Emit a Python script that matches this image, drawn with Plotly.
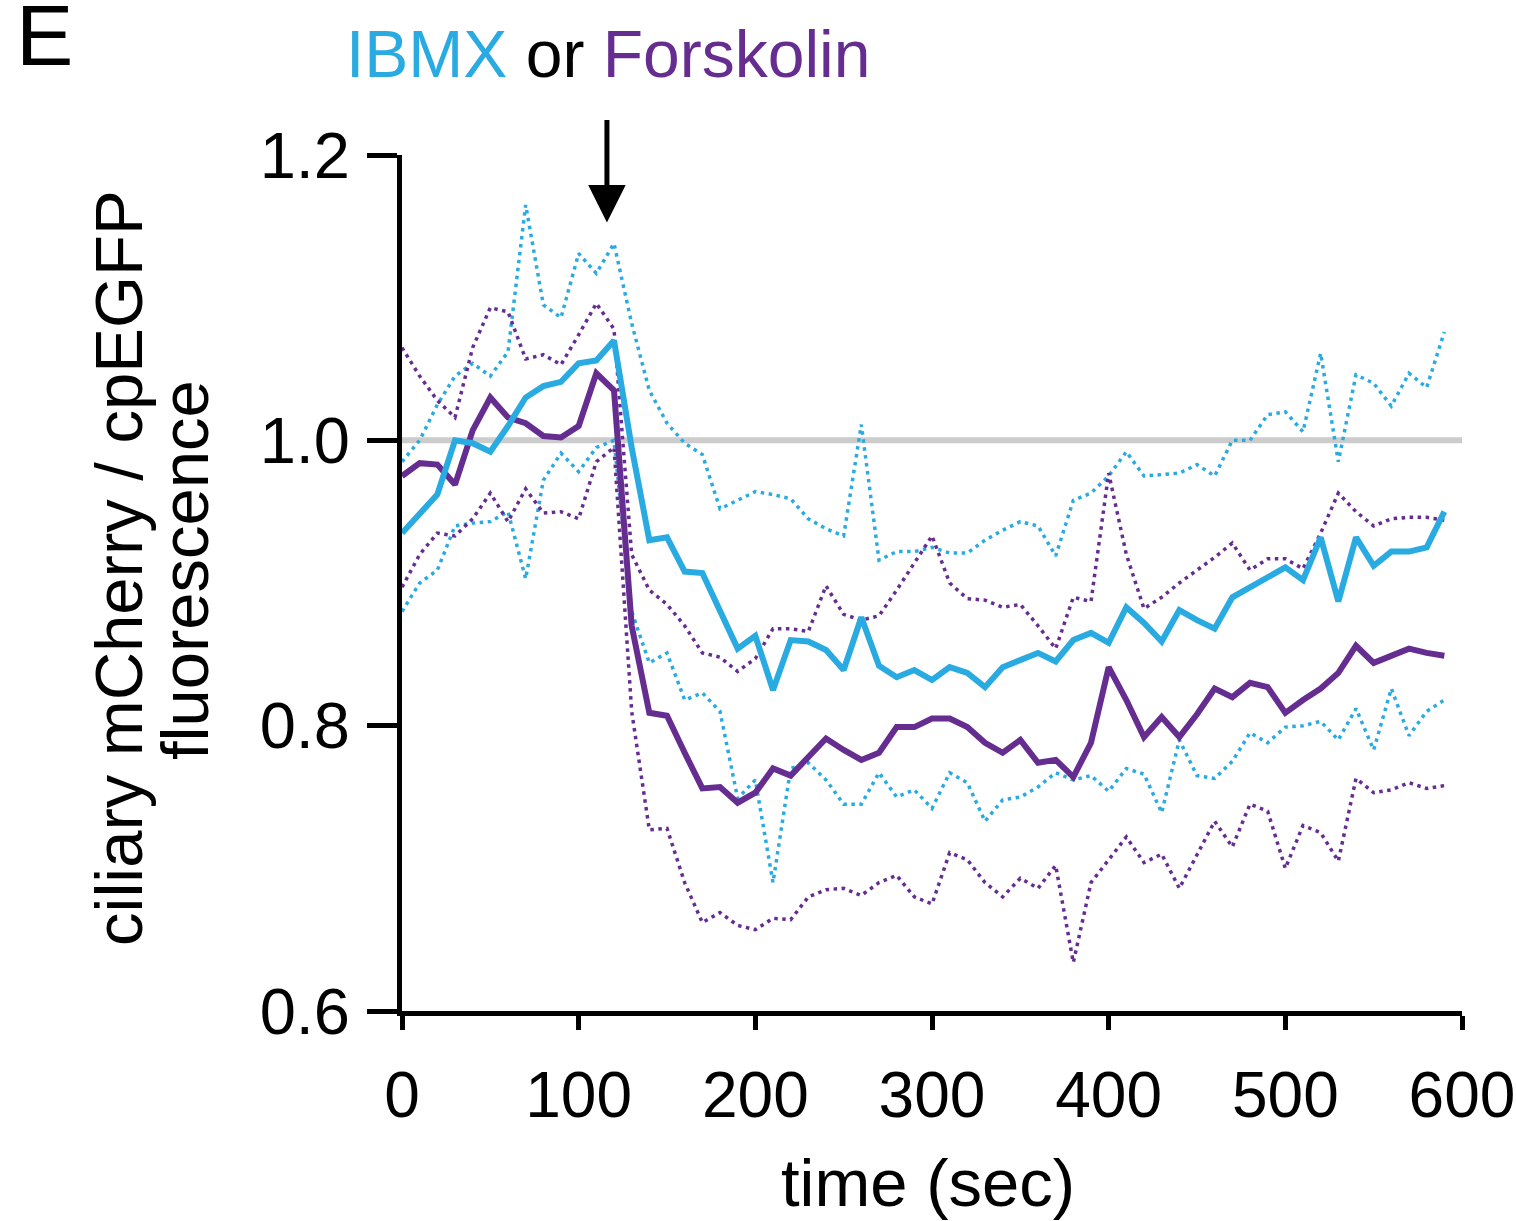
import plotly.graph_objects as go

time_sec = [0, 10, 20, 30, 40, 50, 60, 70, 80, 90,
            100, 110, 120, 130, 140, 150, 160, 170, 180, 190,
            200, 210, 220, 230, 240, 250, 260, 270, 280, 290,
            300, 310, 320, 330, 340, 350, 360, 370, 380, 390,
            400, 410, 420, 430, 440, 450, 460, 470, 480, 490,
            500, 510, 520, 530, 540, 550, 560, 570, 580, 590]

ibmx_mean = [0.935, 0.948, 0.962, 1.000, 0.998, 0.992, 1.010, 1.030, 1.038, 1.041,
             1.054, 1.056, 1.070, 0.995, 0.930, 0.932, 0.908, 0.907, 0.881, 0.854,
             0.863, 0.825, 0.860, 0.859, 0.853, 0.839, 0.876, 0.842, 0.834, 0.839,
             0.832, 0.841, 0.837, 0.827, 0.841, 0.846, 0.851, 0.845, 0.860, 0.865,
             0.858, 0.883, 0.872, 0.859, 0.881, 0.874, 0.868, 0.890, 0.897, 0.904,
             0.911, 0.902, 0.932, 0.887, 0.932, 0.912, 0.922, 0.922, 0.925, 0.950]

ibmx_upper = [0.985, 1.000, 1.025, 1.045, 1.054, 1.045, 1.062, 1.165, 1.095, 1.086,
              1.131, 1.117, 1.138, 1.082, 1.035, 1.012, 0.998, 0.990, 0.952, 0.958,
              0.964, 0.962, 0.959, 0.945, 0.938, 0.933, 1.011, 0.916, 0.922, 0.922,
              0.925, 0.921, 0.921, 0.930, 0.937, 0.943, 0.940, 0.919, 0.958, 0.963,
              0.975, 0.992, 0.975, 0.976, 0.977, 0.983, 0.975, 1.000, 1.000, 1.018,
              1.020, 1.006, 1.061, 0.985, 1.046, 1.040, 1.024, 1.047, 1.037, 1.076]

ibmx_lower = [0.880, 0.900, 0.909, 0.940, 0.942, 0.943, 0.950, 0.903, 0.972, 0.991,
              0.978, 0.995, 1.000, 0.880, 0.844, 0.851, 0.818, 0.823, 0.810, 0.749,
              0.762, 0.690, 0.770, 0.774, 0.762, 0.745, 0.745, 0.767, 0.750, 0.755,
              0.742, 0.767, 0.760, 0.733, 0.748, 0.750, 0.757, 0.767, 0.762, 0.765,
              0.754, 0.770, 0.766, 0.739, 0.790, 0.765, 0.763, 0.775, 0.795, 0.788,
              0.799, 0.800, 0.803, 0.790, 0.812, 0.783, 0.826, 0.793, 0.810, 0.818]

forsk_mean = [0.975, 0.984, 0.983, 0.969, 1.007, 1.030, 1.016, 1.012, 1.003, 1.002,
              1.010, 1.047, 1.035, 0.870, 0.809, 0.807, 0.781, 0.756, 0.757, 0.746,
              0.753, 0.770, 0.765, 0.778, 0.791, 0.783, 0.776, 0.781, 0.799, 0.799,
              0.805, 0.805, 0.799, 0.788, 0.781, 0.790, 0.774, 0.776, 0.764, 0.788,
              0.841, 0.818, 0.792, 0.806, 0.792, 0.808, 0.826, 0.820, 0.830, 0.827,
              0.809, 0.818, 0.826, 0.837, 0.856, 0.844, 0.849, 0.854, 0.851, 0.849]

forsk_upper = [1.065, 1.045, 1.028, 1.016, 1.065, 1.093, 1.090, 1.057, 1.060, 1.053,
               1.074, 1.096, 1.078, 0.920, 0.895, 0.885, 0.870, 0.851, 0.848, 0.838,
               0.847, 0.868, 0.868, 0.866, 0.898, 0.878, 0.874, 0.877, 0.895, 0.914,
               0.933, 0.900, 0.889, 0.888, 0.883, 0.885, 0.870, 0.854, 0.890, 0.887,
               0.977, 0.920, 0.882, 0.890, 0.900, 0.909, 0.918, 0.928, 0.909, 0.917,
               0.917, 0.910, 0.935, 0.963, 0.950, 0.940, 0.945, 0.946, 0.946, 0.944]

forsk_lower = [0.897, 0.920, 0.935, 0.933, 0.945, 0.963, 0.943, 0.966, 0.949, 0.950,
               0.945, 0.985, 0.995, 0.810, 0.727, 0.728, 0.690, 0.662, 0.669, 0.660,
               0.657, 0.665, 0.664, 0.680, 0.685, 0.686, 0.681, 0.690, 0.695, 0.680,
               0.675, 0.711, 0.706, 0.690, 0.680, 0.693, 0.686, 0.702, 0.634, 0.690,
               0.706, 0.722, 0.704, 0.710, 0.686, 0.710, 0.733, 0.715, 0.745, 0.740,
               0.700, 0.730, 0.725, 0.705, 0.763, 0.753, 0.755, 0.760, 0.756, 0.758]

x_ticks = [0, 100, 200, 300, 400, 500, 600]
y_ticks = [0.6, 0.8, 1.0, 1.2]
y_tick_text = ["0.6", "0.8", "1.0", "1.2"]

BLUE = "#29ABE2"
PURPLE = "#662D91"
FONT = "Liberation Sans, Arial, sans-serif"

fig = go.Figure()

for series, color in [(ibmx_upper, BLUE), (ibmx_lower, BLUE),
                      (forsk_upper, PURPLE), (forsk_lower, PURPLE)]:
    fig.add_trace(go.Scatter(x=time_sec, y=series, mode="lines",
                             line=dict(color=color, width=3.5, dash="3.5px,4.5px"),
                             hoverinfo="skip", showlegend=False))

fig.add_trace(go.Scatter(x=time_sec, y=forsk_mean, mode="lines",
                         line=dict(color=PURPLE, width=6), showlegend=False))
fig.add_trace(go.Scatter(x=time_sec, y=ibmx_mean, mode="lines",
                         line=dict(color=BLUE, width=6), showlegend=False))

# baseline reference at 1.0
fig.add_shape(type="line", xref="x", yref="y", x0=0, x1=600, y0=1.0, y1=1.0,
              line=dict(color="#cccccc", width=6), layer="below")

L, R, T, B = 402, 54, 155, 210
W, H = 1516, 1221
PW, PH = W - L - R, H - T - B


def px(xp):
    return (xp - L) / PW


def py(yp):
    return (H - B - yp) / PH


fig.update_layout(
    width=W, height=H,
    margin=dict(l=L, r=R, t=T, b=B, pad=0, autoexpand=False),
    plot_bgcolor="white", paper_bgcolor="white",
    font=dict(family=FONT, color="black", size=65),
    showlegend=False,
    xaxis=dict(range=[0, 600], tickvals=x_ticks, ticks="outside", ticklen=14,
               tickwidth=5, tickcolor="black", showline=True, linewidth=5,
               linecolor="black", showgrid=False, zeroline=False,
               automargin=False, ticklabeloverflow="allow",
               tickfont=dict(size=64, family=FONT), ticklabelstandoff=10),
    yaxis=dict(range=[0.6, 1.2], tickvals=y_ticks, ticktext=y_tick_text,
               ticks="outside", ticklen=30, tickwidth=5, tickcolor="black",
               showline=True, linewidth=5, linecolor="black", showgrid=False,
               zeroline=False, automargin=False, ticklabeloverflow="allow",
               tickfont=dict(size=65, family=FONT),
               ticklabelstandoff=4),
)

annotations = [
    dict(text="ciliary mCherry / cpEGFP", x=px(118), y=py(568), textangle=-90,
         showarrow=False, xanchor="center", yanchor="middle",
         font=dict(size=67, family=FONT)),
    dict(text="fluorescence", x=px(184), y=py(570), textangle=-90,
         showarrow=False, xanchor="center", yanchor="middle",
         font=dict(size=67, family=FONT)),
    dict(text="time (sec)", x=px(928), y=py(1182), showarrow=False,
         xanchor="center", yanchor="middle", font=dict(size=67, family=FONT)),
    dict(text="E", x=px(14), y=py(35), showarrow=False, xanchor="left",
         yanchor="middle", font=dict(size=86, family=FONT)),
    dict(text=f"<span style='color:{BLUE}'>IBMX</span> or "
              f"<span style='color:{PURPLE}'>Forskolin</span>",
         x=px(608), y=py(54), showarrow=False, xanchor="center",
         yanchor="middle", font=dict(size=66, family=FONT)),
    dict(x=116, y=1.1527, xref="x", yref="y", text="", showarrow=True,
         ax=0, ay=-104, arrowhead=2, arrowwidth=5, arrowsize=1.5,
         arrowcolor="black"),
]
for a in annotations:
    a.setdefault("xref", "paper")
    a.setdefault("yref", "paper")
fig.update_layout(annotations=annotations)

fig.write_html("out.html")
